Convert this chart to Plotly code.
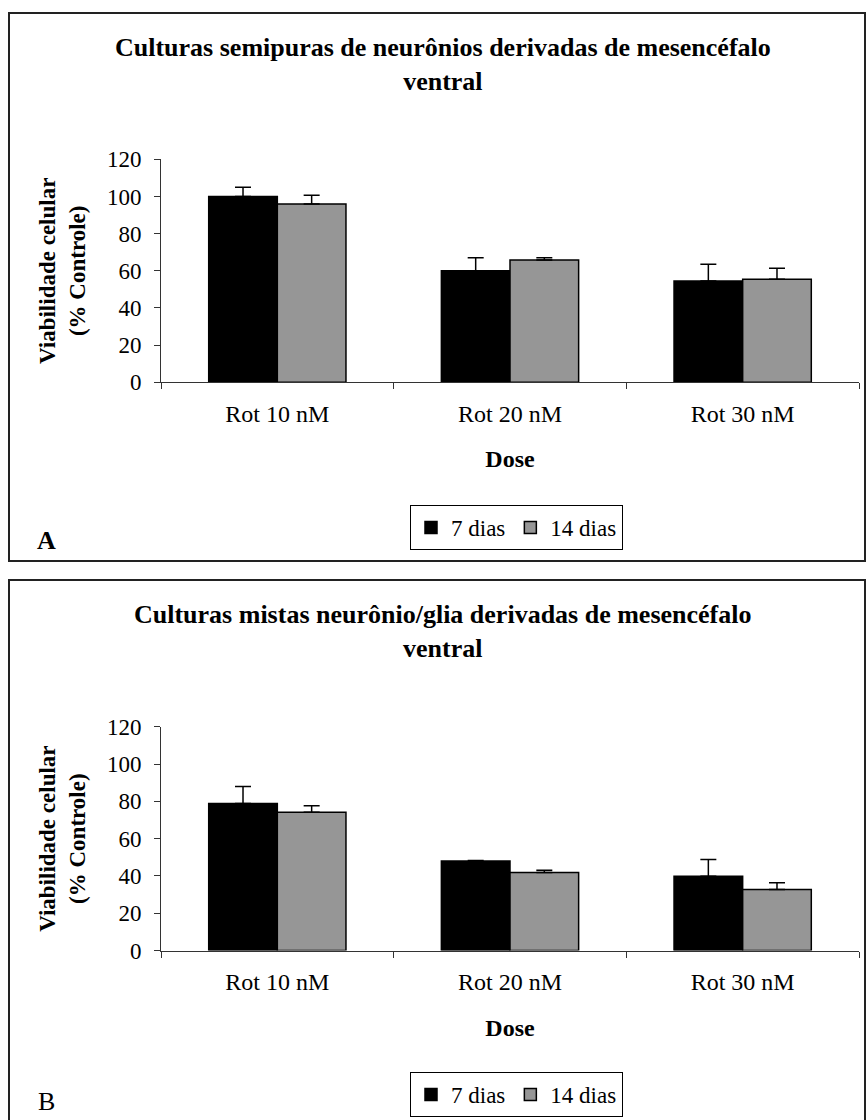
import plotly.graph_objects as go

W, H = 866, 1120

categories = ["Rot 10 nM", "Rot 20 nM", "Rot 30 nM"]
series_names = ["7 dias", "14 dias"]

# Panel A: semipure neuron cultures
a_7 = [100.0, 60.0, 54.5]
a_7_err = [5.0, 7.0, 9.0]
a_14 = [96.0, 65.8, 55.4]
a_14_err = [4.6, 1.2, 6.0]

# Panel B: mixed neuron/glia cultures
b_7 = [78.9, 48.0, 39.8]
b_7_err = [9.1, 0.3, 9.0]
b_14 = [74.1, 41.9, 32.8]
b_14_err = [3.5, 1.1, 3.6]

y_ticks = [0, 20, 40, 60, 80, 100, 120]

title_a = "Culturas semipuras de neurônios derivadas de mesencéfalo<br>ventral"
title_b = "Culturas mistas neurônio/glia derivadas de mesencéfalo<br>ventral"
y_title = "Viabilidade celular<br>(% Controle)"
x_title = "Dose"

FONT = "Liberation Serif, Times New Roman, serif"
GREY = "#969696"
AXC = "#333333"


def py(pix):
    return 1 - pix / H


def px(pix):
    return pix / W


fig = go.Figure()

panels = [
    (a_7, a_7_err, a_14, a_14_err, "x", "y", "legend"),
    (b_7, b_7_err, b_14, b_14_err, "x2", "y2", "legend2"),
]
for v7, e7, v14, e14, xa, ya, lg in panels:
    fig.add_trace(go.Bar(
        x=categories, y=v7, name=series_names[0], xaxis=xa, yaxis=ya, legend=lg,
        marker=dict(color="#000000", line=dict(color="#000000", width=1.5)),
        error_y=dict(type="data", array=e7, symmetric=False, arrayminus=[0] * 3,
                     color="#000000", thickness=1.5, width=8),
    ))
    fig.add_trace(go.Bar(
        x=categories, y=v14, name=series_names[1], xaxis=xa, yaxis=ya, legend=lg,
        marker=dict(color=GREY, line=dict(color="#000000", width=1.5)),
        error_y=dict(type="data", array=e14, symmetric=False, arrayminus=[0] * 3,
                     color="#000000", thickness=1.5, width=8),
    ))

xdom = [px(161), px(859)]
common_x = dict(
    showline=True, linecolor=AXC, linewidth=1, ticks="outside", ticklen=6,
    tickcolor=AXC, tickson="boundaries", showgrid=False, zeroline=False,
    automargin=False,
    tickfont=dict(family=FONT, size=24, color="#000"), ticklabelstandoff=10,
    title=dict(text=x_title, font=dict(family=FONT, size=24, color="#000", weight="bold"),
               standoff=24),
    domain=xdom,
)
common_y = dict(
    showline=True, linecolor=AXC, linewidth=1, ticks="outside", ticklen=6,
    tickcolor=AXC, showgrid=False, zeroline=False, range=[0, 120],
    automargin=False,
    tickvals=y_ticks, tickfont=dict(family=FONT, size=23, color="#000"),
    ticklabelstandoff=8,
    title=dict(text=y_title, font=dict(family=FONT, size=23, color="#000", weight="bold"),
               standoff=14),
)

fig.update_layout(
    template="none",
    width=W, height=H, margin=dict(l=0, r=0, t=0, b=0, pad=0, autoexpand=False),
    paper_bgcolor="white", plot_bgcolor="white",
    barmode="group", bargap=0.41, bargroupgap=0,
    font=dict(family=FONT, color="#000"),
    xaxis=dict(**common_x, anchor="y"),
    yaxis=dict(**common_y, domain=[py(382.3), py(159.3)], anchor="x"),
    xaxis2=dict(**common_x, anchor="y2"),
    yaxis2=dict(**common_y, domain=[py(950.6), py(726.7)], anchor="x2"),
    legend=dict(orientation="h", x=px(410), y=py(505), xanchor="left", yanchor="top",
                bordercolor="#000", borderwidth=1, bgcolor="white",
                font=dict(family=FONT, size=23, color="#000"), traceorder="normal"),
    legend2=dict(orientation="h", x=px(410), y=py(1072), xanchor="left", yanchor="top",
                 bordercolor="#000", borderwidth=1, bgcolor="white",
                 font=dict(family=FONT, size=23, color="#000"), traceorder="normal"),
    showlegend=True,
)

# titles and panel letters
fig.add_annotation(text=title_a, xref="paper", yref="paper", x=px(443), y=py(64),
                   xanchor="center", yanchor="middle", showarrow=False,
                   font=dict(family=FONT, size=26, color="#000", weight="bold"))
fig.add_annotation(text=title_b, xref="paper", yref="paper", x=px(443), y=py(631),
                   xanchor="center", yanchor="middle", showarrow=False,
                   font=dict(family=FONT, size=26, color="#000", weight="bold"))
fig.add_annotation(text="A", xref="paper", yref="paper", x=px(46), y=py(540),
                   xanchor="center", yanchor="middle", showarrow=False,
                   font=dict(family=FONT, size=26, color="#000", weight="bold"))
fig.add_annotation(text="B", xref="paper", yref="paper", x=px(46), y=py(1101),
                   xanchor="center", yanchor="middle", showarrow=False,
                   font=dict(family=FONT, size=26, color="#000"))

# panel frames
fig.add_shape(type="rect", xref="paper", yref="paper", x0=px(9), x1=px(865),
              y0=py(561), y1=py(13), line=dict(color="#222", width=2), layer="below")
fig.add_shape(type="rect", xref="paper", yref="paper", x0=px(9), x1=px(865),
              y0=py(1130), y1=py(580), line=dict(color="#222", width=2), layer="below")

fig.write_html("out.html")
